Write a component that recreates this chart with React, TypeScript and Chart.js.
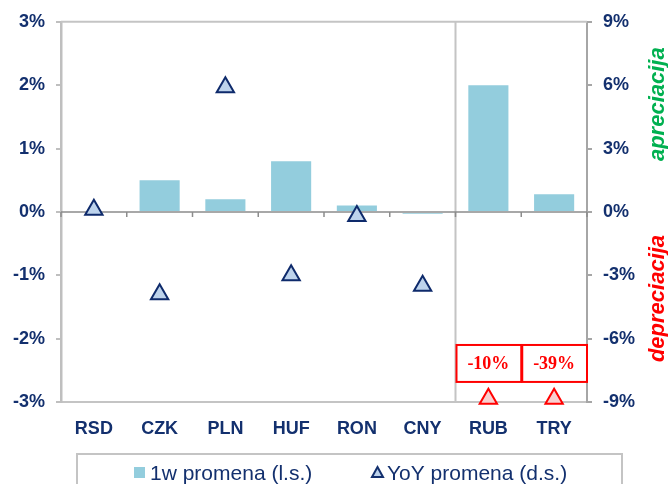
import React, { useEffect, useRef } from 'react';
import { Chart, registerables } from 'chart.js';
Chart.register(...registerables);

const categories = ['RSD', 'CZK', 'PLN', 'HUF', 'RON', 'CNY', 'RUB', 'TRY'];
const weeklyChange = [0, 0.5, 0.2, 0.8, 0.1, -0.03, 2.0, 0.28];
const yoyChange = [0.1, -3.9, 5.9, -3.0, -0.2, -3.5, -10, -39];
const leftMin = -3;
const leftMax = 3;
const rightMin = -9;
const rightMax = 9;
const yoyFloor = -8.85;
const legendLabels = ['1w promena (l.s.)', 'YoY promena (d.s.)'];
const sideLabels = ['apreciacija', 'depreciacija'];

const NAVY = '#13306E';
const BAR = '#93CDDD';

const decorPlugin = {
  id: 'decor',
  beforeDatasetsDraw(chart: any) {
    const { ctx, chartArea } = chart;
    const x = chart.scales.x;
    const y = chart.scales.y;
    ctx.save();
    // top border
    ctx.strokeStyle = '#C4C4C4';
    ctx.lineWidth = 2;
    ctx.beginPath();
    ctx.moveTo(chartArea.left, chartArea.top);
    ctx.lineTo(chartArea.right, chartArea.top);
    ctx.stroke();
    // separator between CNY and RUB
    const step = (chartArea.right - chartArea.left) / categories.length;
    const sepX = x.getPixelForValue(5) + step / 2;
    ctx.beginPath();
    ctx.moveTo(sepX, chartArea.top);
    ctx.lineTo(sepX, chartArea.bottom);
    ctx.stroke();
    // zero line with ticks
    const y0 = y.getPixelForValue(0);
    ctx.strokeStyle = '#8C8C8C';
    ctx.lineWidth = 1.5;
    ctx.beginPath();
    ctx.moveTo(chartArea.left, y0);
    ctx.lineTo(chartArea.right, y0);
    for (let i = 0; i <= categories.length; i++) {
      const tx = chartArea.left + i * step;
      ctx.moveTo(tx, y0);
      ctx.lineTo(tx, y0 + 5);
    }
    ctx.stroke();
    ctx.restore();
  },
  afterDraw(chart: any) {
    const { ctx, chartArea } = chart;
    const x = chart.scales.x;
    const y2 = chart.scales.y2;
    const step = (chartArea.right - chartArea.left) / categories.length;
    ctx.save();
    // annotation boxes for out-of-range values
    yoyChange.forEach((v, i) => {
      if (v >= yoyFloor) return;
      const cx = x.getPixelForValue(i);
      const top = y2.getPixelForValue(-6.3);
      const bottom = y2.getPixelForValue(-8.05);
      ctx.strokeStyle = '#FF0000';
      ctx.lineWidth = 2;
      ctx.strokeRect(cx - step / 2 + 1, top, step - 1, bottom - top);
      ctx.fillStyle = '#FF0000';
      ctx.font = 'bold 18px "Liberation Serif", "Times New Roman", serif';
      ctx.textAlign = 'center';
      ctx.textBaseline = 'middle';
      ctx.fillText(v + '%', cx, (top + bottom) / 2 + 1);
    });
    // side labels
    const sx = chartArea.right + 71;
    ctx.font = 'italic bold 22px "Liberation Sans", Arial, sans-serif';
    ctx.textAlign = 'center';
    ctx.textBaseline = 'middle';
    ctx.save();
    ctx.translate(sx, y2.getPixelForValue(5.1));
    ctx.rotate(-Math.PI / 2);
    ctx.fillStyle = '#00B050';
    ctx.fillText(sideLabels[0], 0, 0);
    ctx.restore();
    ctx.save();
    ctx.translate(sx, y2.getPixelForValue(-4.1));
    ctx.rotate(-Math.PI / 2);
    ctx.fillStyle = '#FF0000';
    ctx.fillText(sideLabels[1], 0, 0);
    ctx.restore();
    // legend
    const ly = 473;
    ctx.strokeStyle = '#C4C4C4';
    ctx.lineWidth = 2;
    ctx.strokeRect(77, 454, 545, 60);
    ctx.font = '21px "Liberation Sans", Arial, sans-serif';
    ctx.textAlign = 'left';
    ctx.textBaseline = 'middle';
    ctx.fillStyle = BAR;
    ctx.fillRect(134, 467, 11, 11);
    ctx.fillStyle = NAVY;
    ctx.fillText(legendLabels[0], 150, ly + 1);
    // small triangle
    ctx.beginPath();
    ctx.moveTo(377.5, 467);
    ctx.lineTo(383, 477);
    ctx.lineTo(372, 477);
    ctx.closePath();
    ctx.fillStyle = '#BDD3EC';
    ctx.fill();
    ctx.strokeStyle = NAVY;
    ctx.lineWidth = 2;
    ctx.stroke();
    ctx.fillStyle = NAVY;
    ctx.fillText(legendLabels[1], 387, ly + 1);
    ctx.restore();
  },
};

export default function App() {
  const ref = useRef<HTMLCanvasElement>(null);
  useEffect(() => {
    document.body.style.margin = '0';
    const canvas = ref.current!;
    const tickFont = { family: '"Liberation Sans", Arial, sans-serif', size: 18, weight: 'bold' as const };
    const chart = new Chart(canvas, {
      type: 'bar',
      data: {
        labels: categories,
        datasets: [
          {
            type: 'line' as any,
            label: legendLabels[1],
            data: yoyChange.map((v) => Math.max(v, yoyFloor)),
            yAxisID: 'y2',
            showLine: false,
            clip: false,
            pointStyle: 'triangle',
            pointRadius: 10,
            pointBorderWidth: 2,
            pointBackgroundColor: yoyChange.map((v) => (v < yoyFloor ? '#F8D0D0' : '#BDD3EC')),
            pointBorderColor: yoyChange.map((v) => (v < yoyFloor ? '#FF0000' : '#0E2A6B')),
            order: 0,
          } as any,
          {
            type: 'bar',
            label: legendLabels[0],
            data: weeklyChange,
            yAxisID: 'y',
            backgroundColor: BAR,
            barPercentage: 0.61,
            categoryPercentage: 1,
            order: 1,
          },
        ],
      },
      options: {
        responsive: false,
        animation: false,
        events: [],
        layout: { padding: { top: 21, left: 0, right: 0, bottom: 0 } },
        plugins: { legend: { display: false }, tooltip: { enabled: false } },
        scales: {
          x: {
            offset: true,
            grid: { display: false, drawTicks: false },
            border: { display: true, color: '#C4C4C4', width: 2 },
            ticks: { font: tickFont, color: NAVY, padding: 16 },
            afterFit: (s: any) => {
              s.height = 82;
            },
          },
          y: {
            position: 'left',
            min: leftMin,
            max: leftMax,
            ticks: { stepSize: 1, font: tickFont, color: NAVY, padding: 11, callback: (v: any) => v + '%' },
            grid: { drawOnChartArea: false, drawTicks: true, tickLength: 5, color: '#BFBFBF', lineWidth: 2 },
            border: { color: '#BFBFBF', width: 2.5 },
            afterFit: (s: any) => {
              s.width = 61;
            },
          },
          y2: {
            position: 'right',
            min: rightMin,
            max: rightMax,
            ticks: { stepSize: 3, font: tickFont, color: NAVY, padding: 11, callback: (v: any) => v + '%' },
            grid: { drawOnChartArea: false, drawTicks: true, tickLength: 5, color: '#A6A6A6', lineWidth: 2 },
            border: { color: '#A6A6A6', width: 2 },
            afterFit: (s: any) => {
              s.width = 81;
            },
          },
        },
      },
      plugins: [decorPlugin],
    });
    return () => chart.destroy();
  }, []);
  return <canvas ref={ref} width={668} height={484} style={{ display: 'block' }} />;
}
